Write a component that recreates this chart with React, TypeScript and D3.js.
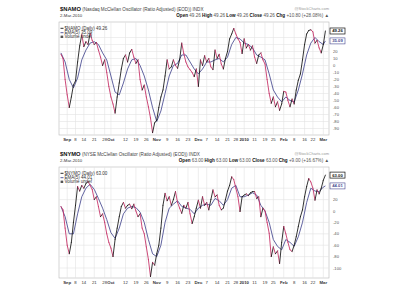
import React from "react";
import * as d3 from "d3";

// ---------- calendar ----------
const startDate = "2009-08-27";
const endDate = "2010-03-02";
const holidays = ["2009-09-07", "2009-11-26", "2009-12-25", "2010-01-01", "2010-01-18", "2010-02-15"];

const fmt = d3.timeFormat("%Y-%m-%d");
const parse = d3.timeParse("%Y-%m-%d");
const tradingDays: string[] = d3
  .timeDay.range(parse(startDate)!, d3.timeDay.offset(parse(endDate)!, 1))
  .filter((d) => d.getDay() !== 0 && d.getDay() !== 6 && !holidays.includes(fmt(d)))
  .map(fmt);

// ---------- x tick labels ----------
const tickDates = [
  "2009-09-01", "2009-09-08", "2009-09-14", "2009-09-21", "2009-09-28", "2009-10-01",
  "2009-10-12", "2009-10-19", "2009-10-26", "2009-11-02", "2009-11-09", "2009-11-16",
  "2009-11-23", "2009-12-01", "2009-12-07", "2009-12-14", "2009-12-21", "2009-12-28",
  "2010-01-04", "2010-01-11", "2010-01-19", "2010-01-25", "2010-02-01", "2010-02-08",
  "2010-02-16", "2010-02-22", "2010-03-01",
];
const tickLabels = [
  "Sep", "8", "14", "21", "28", "Oct", "12", "19", "26", "Nov", "9", "16", "23", "Dec",
  "7", "14", "21", "28", "2010", "11", "19", "25", "Feb", "8", "16", "22", "Mar",
];
const boldTickLabels = ["Sep", "Oct", "Nov", "Dec", "2010", "Feb", "Mar"];

// ---------- $NAMO daily (one value per trading day from 2009-08-27) ----------
const namoDaily = [
  16, 10, -20, -42, -60, -45, -28, -22, 5, 28,
  44, 27, 34, 30, 46, 36, 30, 33, 22, 12,
  0, 8, -10, -30, -45, -55, -68, -45, -25, -5,
  10, 15, 5, 18, 23, 12, 3, 8, -20, -35,
  -28, -45, -59, -75, -96, -82, -78, -60, -45, -35,
  -15, 8, -5, -2, 8, 0, -4, 8, 32, 17,
  5, -2, -6, -10, -16, -5, -30, 8, 0, 14,
  5, 10, -2, -6, 22, 10, 16, 2, -5, 10,
  20, 38, 45, 53, 45, 38, 33, 17, 38, 25,
  30, 22, 28, 12, 3, 15, 18, 8, 2, -20,
  -40, -54, -45, -59, -52, -64, -55, -37, -38, -50,
  -59, -48, -55, -35, -21, -12, 8, 30, 45, 50,
  51, 48, 32, 36, 25, 18, 30, 49.26,
];

// ---------- $NYMO daily ----------
const nymoDaily = [
  8, 2, -30, -60, -75, -55, -20, 10, 43, 35,
  45, 40, 48, 52, 45, 38, 20, 25, 8, -10,
  -5, -20, -40, -55, -65, -80, -50, -30, -10, 8,
  15, 5, 10, 12, 4, 12, 0, -10, -5, -30,
  -40, -63, -85, -115, -90, -95, -75, -60, -30, 10,
  31, 18, 25, 10, 20, 34, 15, 5, -4, 10,
  5, 15, -5, -22, -10, 5, 19, 5, 25, 10,
  15, 2, 20, 37, 25, 28, 10, 2, 5, 20,
  35, 45, 60, 55, 40, 25, -1, 25, 28, 30,
  27, 32, 34, 34, 22, 25, -10, 5, 0, -20,
  -39, -80, -63, -75, -70, -92, -55, -27, -40, -55,
  -68, -71, -60, -45, -27, -10, 2, 25, 43, 57,
  51, 40, 19, 37, 30, 40, 54, 63,
];

// ---------- EMA lines (sampled dates) ----------
const emaDates = [
  "2009-08-27", "2009-08-31", "2009-09-02", "2009-09-04", "2009-09-09", "2009-09-11",
  "2009-09-15", "2009-09-17", "2009-09-21", "2009-09-23", "2009-09-25", "2009-09-29",
  "2009-10-01", "2009-10-05", "2009-10-07", "2009-10-09", "2009-10-13", "2009-10-15",
  "2009-10-19", "2009-10-21", "2009-10-23", "2009-10-27", "2009-10-29", "2009-11-02",
  "2009-11-04", "2009-11-06", "2009-11-10", "2009-11-12", "2009-11-16", "2009-11-18",
  "2009-11-20", "2009-11-24", "2009-11-27", "2009-12-01", "2009-12-03", "2009-12-07",
  "2009-12-09", "2009-12-11", "2009-12-15", "2009-12-17", "2009-12-21", "2009-12-23",
  "2009-12-28", "2009-12-30", "2010-01-04", "2010-01-06", "2010-01-08", "2010-01-12",
  "2010-01-14", "2010-01-19", "2010-01-21", "2010-01-25", "2010-01-27", "2010-01-29",
  "2010-02-02", "2010-02-04", "2010-02-08", "2010-02-10", "2010-02-12", "2010-02-17",
  "2010-02-19", "2010-02-23", "2010-02-25", "2010-03-01", "2010-03-02",
];
const namoEma = [
  18, 5, -20, -32, -18, 8, 22, 32, 34, 30, 18, 8, -15, -38, -42, -25, -5, 8, 10, 0,
  -15, -35, -60, -80, -65, -40, -15, 0, 3, 15, 15, 5, -5, -12, -5, 5, 5, 8, 10, 5,
  12, 30, 40, 38, 32, 30, 25, 15, 12, 8, -12, -35, -45, -52, -45, -50, -52, -35, -12, 15,
  32, 40, 34, 30, 35.09,
];
const nymoEma = [
  8, -10, -40, -40, -5, 25, 40, 47, 38, 22, 5, -15, -38, -48, -30, -5, 5, 8, 6, -2,
  -20, -50, -75, -80, -60, -20, 5, 12, 18, 8, 5, 3, -5, 5, 10, 12, 10, 22, 18, 10,
  20, 40, 45, 25, 25, 28, 32, 28, 10, 0, -20, -50, -62, -68, -50, -55, -62, -45, -20, 15,
  40, 35, 34, 42, 44.01,
];

// ---------- y ticks ----------
const namoTicks = [40, 30, 20, 10, 0, -10, -20, -30, -40, -50, -60, -70, -80, -90];
const nymoTicks = [40, 20, 0, -20, -40, -60, -80, -100];

const FONT = "'Liberation Sans', Arial, sans-serif";
const UP = "#111111";
const DOWN = "#c42a62";
const EMA_COLOR = "#45478f";

type PanelProps = {
  top: number;
  height: number;
  domain: [number, number];
  ticks: number[];
  daily: number[];
  ema: number[];
  symbol: string;
  name: string;
  close: string;
  emaLast: string;
  chg: string;
  clipId: string;
};

const X0 = 59;
const X1 = 329;

function Panel(p: PanelProps) {
  const x = d3.scalePoint<string>().domain(tradingDays).range([60.95, 325.4]);
  const y = d3.scaleLinear().domain(p.domain).range([p.top + p.height, p.top]);
  const yTop = p.top;
  const yBot = p.top + p.height;
  const hx = yTop - 7;

  const emaLine = d3
    .line<number>()
    .x((_, i) => x(emaDates[i])!)
    .y((d) => y(d));

  const segs = p.daily.slice(1).map((v, i) => ({
    x1: x(tradingDays[i])!,
    y1: y(p.daily[i]),
    x2: x(tradingDays[i + 1])!,
    y2: y(v),
    c: v >= p.daily[i] ? UP : DOWN,
  }));

  const lastDaily = p.daily[p.daily.length - 1];
  const lastEma = p.ema[p.ema.length - 1];
  const boxYs = [y(lastDaily), y(lastEma)];
  const visibleTicks = p.ticks.filter((t) => boxYs.every((b) => Math.abs(y(t) - b) > 5));

  return (
    <g fontFamily={FONT}>
      {/* header */}
      <text x={60} y={hx - 4.3} fontSize={5.8} fill="#111">
        <tspan fontWeight="bold">{p.symbol}</tspan>
        <tspan fontSize={4.6} fill="#444"> {p.name}</tspan>
      </text>
      <text x={329} y={hx - 5} fontSize={4} fill="#999" textAnchor="end">
        @StockCharts.com
      </text>
      <text x={60} y={hx + 1.6} fontSize={4.3} fill="#333">
        2-Mar-2010
      </text>
      <text x={329} y={hx + 1.8} fontSize={4.6} fill="#555" textAnchor="end">
        <tspan fontWeight="bold" fill="#111">Open</tspan> {p.close}{" "}
        <tspan fontWeight="bold" fill="#111">High</tspan> {p.close}{" "}
        <tspan fontWeight="bold" fill="#111">Low</tspan> {p.close}{" "}
        <tspan fontWeight="bold" fill="#111">Close</tspan> {p.close}{" "}
        <tspan fontWeight="bold" fill="#111">Chg</tspan> {p.chg} ▲
      </text>

      {/* plot frame + grid */}
      <rect x={X0} y={yTop} width={X1 - X0} height={yBot - yTop} fill="#fff" stroke="#b8b8b8" strokeWidth={0.6} />
      {tickDates.map((d) => (
        <line key={"v" + d} x1={x(d)} x2={x(d)} y1={yTop} y2={yBot} stroke="#e2e2e2" strokeWidth={0.6} />
      ))}
      {p.ticks.map((t) => (
        <line key={"h" + t} x1={X0} x2={X1} y1={y(t)} y2={y(t)} stroke="#e2e2e2" strokeWidth={0.6} />
      ))}

      {/* x labels */}
      {tickDates.map((d, i) => (
        <text
          key={"xl" + d}
          x={x(d)}
          y={yBot + 6}
          fontSize={4.3}
          textAnchor="middle"
          fill="#333"
          fontWeight={boldTickLabels.includes(tickLabels[i]) ? "bold" : "normal"}
        >
          {tickLabels[i]}
        </text>
      ))}

      {/* y labels */}
      {visibleTicks.map((t) => (
        <text key={"yl" + t} x={333} y={y(t) + 1.5} fontSize={4.1} fill="#555">
          {t}
        </text>
      ))}

      <clipPath id={p.clipId}>
        <rect x={X0} y={yTop} width={X1 - X0} height={yBot - yTop} />
      </clipPath>
      <g clipPath={`url(#${p.clipId})`}>
        <path d={emaLine(p.ema) || ""} fill="none" stroke={EMA_COLOR} strokeWidth={0.85} />
        {segs.map((s, i) => (
          <line key={"s" + i} x1={s.x1} y1={s.y1} x2={s.x2} y2={s.y2} stroke={s.c} strokeWidth={0.85} strokeLinecap="round" />
        ))}
      </g>

      {/* legend */}
      <line x1={60.5} x2={63.5} y1={yTop + 6.3} y2={yTop + 6.3} stroke={UP} strokeWidth={0.9} />
      <text x={64.5} y={yTop + 7.8} fontSize={4.5} fill="#333">
        {p.symbol} (Daily) {p.close}
      </text>
      <line x1={60.5} x2={63.5} y1={yTop + 10.7} y2={yTop + 10.7} stroke={EMA_COLOR} strokeWidth={0.9} />
      <text x={64.5} y={yTop + 12.2} fontSize={4.5} fill="#333">
        EMA(5) {p.emaLast}
      </text>
      <rect x={60.6} y={yTop + 13.6} width={2.6} height={2.4} fill="#555" />
      <text x={64.5} y={yTop + 16.2} fontSize={4.5} fill="#333">
        Volume undef
      </text>

      {/* last-value boxes */}
      <rect x={330} y={y(lastEma) - 3} width={15} height={6} fill="#fff" stroke={EMA_COLOR} strokeWidth={0.6} />
      <text x={337.5} y={y(lastEma) + 1.5} fontSize={4.2} textAnchor="middle" fill={EMA_COLOR} fontWeight="bold">
        {p.emaLast}
      </text>
      <rect x={330} y={y(lastDaily) - 3} width={15} height={6} fill="#fff" stroke="#111" strokeWidth={0.7} />
      <text x={337.5} y={y(lastDaily) + 1.5} fontSize={4.2} textAnchor="middle" fill="#111" fontWeight="bold">
        {p.close}
      </text>
    </g>
  );
}

export default function App() {
  return (
    <svg width={400} height={300} style={{ position: "absolute", left: 0, top: 0, background: "#fff" }}>
      <rect x={0} y={0} width={400} height={300} fill="#fff" />
      <Panel
        top={22}
        height={113}
        domain={[-99.3, 62.1]}
        ticks={namoTicks}
        daily={namoDaily}
        ema={namoEma}
        symbol="$NAMO"
        name="(Nasdaq McClellan Oscillator (Ratio Adjusted) (EOD)) INDX"
        close="49.26"
        emaLast="35.09"
        chg="+10.80 (+28.08%)"
        clipId="clipTop"
      />
      <Panel
        top={167}
        height={111}
        domain={[-117.5, 77.2]}
        ticks={nymoTicks}
        daily={nymoDaily}
        ema={nymoEma}
        symbol="$NYMO"
        name="(NYSE McClellan Oscillator (Ratio Adjusted) (EOD)) INDX"
        close="63.00"
        emaLast="44.01"
        chg="+9.00 (+16.67%)"
        clipId="clipBot"
      />
    </svg>
  );
}
